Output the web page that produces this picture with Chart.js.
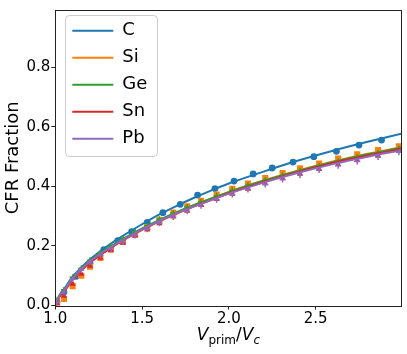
<!DOCTYPE html>
<html>
<head>
<meta charset="utf-8">
<script src="https://cdn.jsdelivr.net/npm/chart.js@4.4.1/dist/chart.umd.min.js"></script>
<style>
html, body { margin: 0; padding: 0; background: #fff; }
</style>
</head>
<body>
<canvas id="graph-cfr" width="407" height="354"></canvas>
<script>
// elements and their fitted curves / simulated points
var elements = ['C', 'Si', 'Ge', 'Sn', 'Pb'];

var fitX = [1.0, 1.02, 1.05, 1.1, 1.15, 1.2, 1.3, 1.4, 1.5, 1.6, 1.7, 1.8, 1.9, 2.0, 2.2, 2.4, 2.6, 2.8, 3.0];
var fitC  = [0, 0.030, 0.055, 0.097, 0.128, 0.155, 0.200, 0.238, 0.273, 0.306, 0.335, 0.362, 0.387, 0.410, 0.450, 0.487, 0.520, 0.550, 0.578];
var fitSi = [0, 0.026, 0.046, 0.087, 0.118, 0.145, 0.187, 0.223, 0.256, 0.286, 0.313, 0.337, 0.360, 0.382, 0.420, 0.454, 0.484, 0.510, 0.533];
var fitGe = [0, 0.030, 0.050, 0.092, 0.123, 0.150, 0.191, 0.227, 0.259, 0.288, 0.314, 0.338, 0.360, 0.381, 0.419, 0.452, 0.482, 0.508, 0.531];
var fitSn = [0, 0.026, 0.046, 0.087, 0.118, 0.144, 0.186, 0.222, 0.254, 0.283, 0.309, 0.333, 0.355, 0.377, 0.415, 0.449, 0.479, 0.504, 0.527];
var fitPb = [0, 0.029, 0.049, 0.091, 0.122, 0.148, 0.189, 0.224, 0.256, 0.284, 0.310, 0.333, 0.355, 0.376, 0.413, 0.446, 0.475, 0.500, 0.522];

var pointsXC = [1.01, 1.05, 1.12, 1.2, 1.28, 1.36, 1.44, 1.53, 1.62, 1.72, 1.82, 1.92, 2.03, 2.14, 2.25, 2.37, 2.49, 2.62, 2.75, 2.88];
var pointsC  = [0.012, 0.045, 0.098, 0.142, 0.188, 0.218, 0.248, 0.279, 0.312, 0.340, 0.371, 0.393, 0.418, 0.442, 0.462, 0.482, 0.500, 0.518, 0.539, 0.556];

var pointsX = [1.01, 1.05, 1.1, 1.15, 1.2, 1.26, 1.32, 1.39, 1.46, 1.53, 1.6, 1.68, 1.76, 1.84, 1.93, 2.02, 2.11, 2.21, 2.31, 2.41, 2.52, 2.63, 2.74, 2.86, 2.98];
var pointsSi = [0.005, 0.022, 0.065, 0.100, 0.130, 0.160, 0.188, 0.214, 0.240, 0.264, 0.288, 0.312, 0.333, 0.352, 0.373, 0.392, 0.410, 0.428, 0.445, 0.461, 0.477, 0.494, 0.508, 0.522, 0.535];
var pointsGe = [0.018, 0.052, 0.095, 0.125, 0.152, 0.177, 0.200, 0.225, 0.247, 0.268, 0.290, 0.311, 0.331, 0.349, 0.369, 0.387, 0.404, 0.421, 0.437, 0.452, 0.468, 0.484, 0.498, 0.512, 0.527];
var pointsSn = [0.006, 0.032, 0.072, 0.106, 0.133, 0.160, 0.185, 0.210, 0.234, 0.255, 0.276, 0.298, 0.318, 0.337, 0.357, 0.375, 0.392, 0.410, 0.427, 0.442, 0.458, 0.474, 0.488, 0.503, 0.519];
var pointsPb = [0.012, 0.045, 0.088, 0.119, 0.145, 0.168, 0.190, 0.213, 0.235, 0.256, 0.276, 0.297, 0.317, 0.335, 0.355, 0.373, 0.390, 0.407, 0.423, 0.438, 0.455, 0.470, 0.484, 0.499, 0.515];

var xTicks = [1.0, 1.5, 2.0, 2.5];
var yTicks = [0.0, 0.2, 0.4, 0.6, 0.8];

var colors = ['#1f77b4', '#ff7f0e', '#2ca02c', '#d62728', '#9467bd'];
var markers = ['circle', 'rect', 'cross', 'triangle', 'cross'];
var markerSize = [3.4, 4.3, 3, 3.6, 3];

var FONT = '"DejaVu Sans", "Liberation Sans", sans-serif';

createGraph();

function toXY(xs, ys) {
    return xs.map(function (x, i) { return { x: x, y: ys[i] }; });
}

function createGraph() {
    var ctx = document.getElementById('graph-cfr').getContext('2d');

    var fits = [fitC, fitSi, fitGe, fitSn, fitPb];
    var pts = [toXY(pointsXC, pointsC), toXY(pointsX, pointsSi), toXY(pointsX, pointsGe),
               toXY(pointsX, pointsSn), toXY(pointsX, pointsPb)];

    var datasets = [];
    elements.forEach(function (name, i) {
        var base = (elements.length - 1 - i) * 2;
        datasets.push({
            type: 'scatter',
            label: name + ' points',
            data: pts[i],
            showLine: false,
            pointStyle: markers[i],
            pointRadius: markerSize[i],
            pointHoverRadius: markerSize[i],
            backgroundColor: colors[i],
            borderColor: colors[i],
            borderWidth: markers[i] === 'cross' ? 1.5 : 0,
            order: base + 1
        });
        datasets.push({
            type: 'line',
            label: name,
            data: toXY(fitX, fits[i]),
            borderColor: colors[i],
            backgroundColor: colors[i],
            borderWidth: 2,
            pointRadius: 0,
            cubicInterpolationMode: 'monotone',
            fill: false,
            order: base
        });
    });

    var framePlugin = {
        id: 'frame',
        afterLayout: function (chart) {
            // move the legend into the upper left corner like matplotlib's
            var lg = chart.legend;
            if (!lg) return;
            lg.left = chart.chartArea.left + 8;
            lg.right = lg.left + lg.width;
            lg.top = 12.7;
            lg.bottom = lg.top + lg.height;
        },
        beforeDraw: function (chart) {
            var lg = chart.legend;
            if (!lg || !lg.legendHitBoxes || !lg.legendHitBoxes.length) return;
            var hb = lg.legendHitBoxes;
            var left = hb[0].left - 7;
            var top = hb[0].top - 7;
            var right = 0, bottom = 0;
            hb.forEach(function (b) {
                right = Math.max(right, b.left + b.width);
                bottom = Math.max(bottom, b.top + b.height);
            });
            right += 10;
            bottom += 8;
            var c = chart.ctx;
            c.save();
            c.beginPath();
            c.roundRect(Math.round(left) + 0.5, Math.round(top) + 0.5,
                        Math.round(right - left), Math.round(bottom - top), 4);
            c.fillStyle = 'rgba(255,255,255,0.8)';
            c.fill();
            c.strokeStyle = '#cccccc';
            c.lineWidth = 1;
            c.stroke();
            c.restore();
        },
        afterDatasetsDraw: function (chart) {
            var a = chart.chartArea;
            var c = chart.ctx;
            c.save();
            c.strokeStyle = '#222';
            c.lineWidth = 1;
            c.strokeRect(Math.round(a.left) + 0.5, Math.round(a.top) + 0.5,
                         Math.round(a.right - a.left), Math.round(a.bottom - a.top));
            c.restore();
        },
        afterDraw: function (chart) {
            // x axis label: V_prim / V_c
            var a = chart.chartArea;
            var c = chart.ctx;
            var parts = [
                { t: 'V', font: 'italic 17px ' + FONT, dy: 0 },
                { t: 'prim', font: '12px ' + FONT, dy: 4 },
                { t: '/', font: '17px ' + FONT, dy: 0 },
                { t: 'V', font: 'italic 17px ' + FONT, dy: 0 },
                { t: 'c', font: 'italic 12px ' + FONT, dy: 4 }
            ];
            c.save();
            var total = 0;
            parts.forEach(function (p) {
                c.font = p.font;
                p.w = c.measureText(p.t).width;
                total += p.w;
            });
            var x = (a.left + a.right) / 2 - total / 2;
            var y = 339.5;
            c.fillStyle = '#000';
            c.textBaseline = 'alphabetic';
            c.textAlign = 'left';
            parts.forEach(function (p) {
                c.font = p.font;
                c.fillText(p.t, x, y + p.dy);
                x += p.w;
            });
            c.restore();
        }
    };

    var options = {
        responsive: false,
        animation: false,
        layout: { padding: { left: 0, top: 5, right: 5.5, bottom: 0 } },
        plugins: {
            tooltip: { enabled: false },
            legend: {
                position: 'chartArea',
                align: 'start',
                labels: {
                    font: { family: FONT, size: 18 },
                    color: '#000',
                    boxWidth: 41,
                    boxHeight: 2,
                    padding: 9,
                    generateLabels: function () {
                        return elements.map(function (name, i) {
                            return {
                                text: name,
                                fillStyle: colors[i],
                                strokeStyle: colors[i],
                                lineWidth: 0,
                                hidden: false,
                                datasetIndex: i * 2 + 1
                            };
                        });
                    }
                }
            }
        },
        scales: {
            x: {
                type: 'linear',
                min: 1.0,
                max: 2.995,
                afterBuildTicks: function (scale) {
                    scale.ticks = xTicks.map(function (v) { return { value: v }; });
                },
                afterFit: function (scale) { scale.height = 48.5; },
                border: { display: false },
                grid: { drawOnChartArea: false, drawTicks: true, tickLength: 4, color: '#222' },
                ticks: {
                    autoSkip: false,
                    maxRotation: 0,
                    padding: 1,
                    color: '#000',
                    font: { family: FONT, size: 15 },
                    callback: function (v) { return v.toFixed(1); }
                }
            },
            y: {
                type: 'linear',
                min: 0,
                max: 0.993,
                afterBuildTicks: function (scale) {
                    scale.ticks = yTicks.map(function (v) { return { value: v }; });
                },
                afterFit: function (scale) { scale.width = 55.3; },
                border: { display: false },
                grid: { drawOnChartArea: false, drawTicks: true, tickLength: 4, color: '#222' },
                title: {
                    display: true,
                    text: 'CFR Fraction',
                    color: '#000',
                    font: { family: FONT, size: 18 },
                    padding: { top: 3, bottom: 0 }
                },
                ticks: {
                    padding: 1,
                    color: '#000',
                    font: { family: FONT, size: 15 },
                    callback: function (v) { return v.toFixed(1); }
                }
            }
        }
    };

    var chart = new Chart(ctx, {
        data: { datasets: datasets },
        options: options,
        plugins: [framePlugin]
    });
}
</script>
</body>
</html>
